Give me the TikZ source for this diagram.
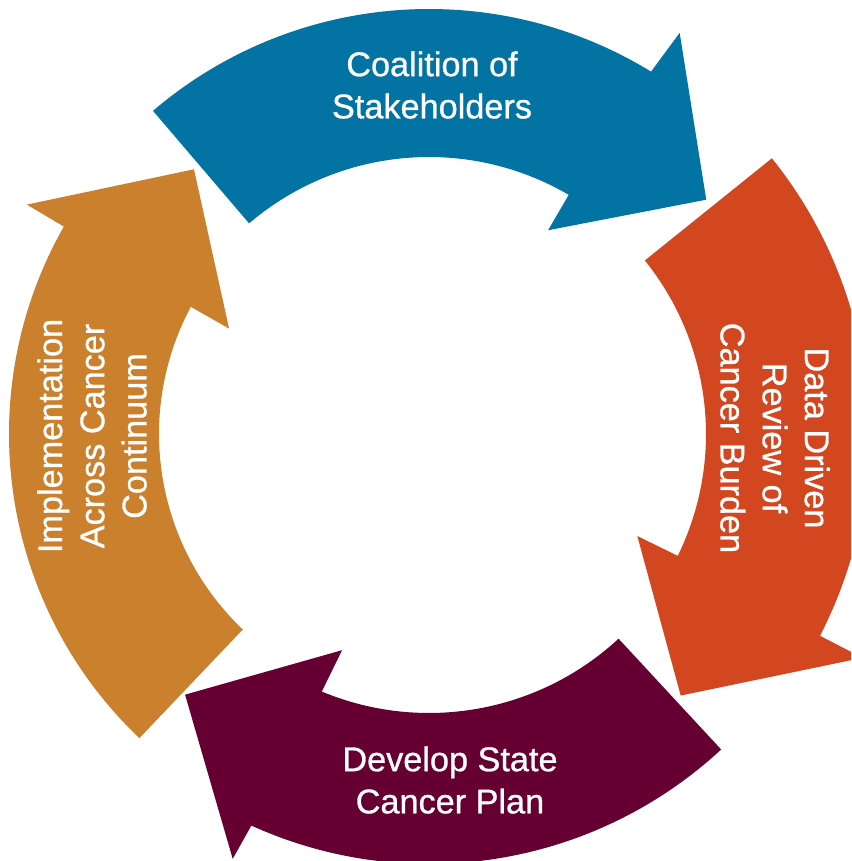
\documentclass[tikz,border=0pt]{standalone}
\usepackage{fontspec}
\newfontfamily\cyclefont{Liberation Sans}[BoldFont=Liberation Sans, BoldFeatures={FakeBold=0.8}]
\definecolor{coalblue}{RGB}{2,115,163}
\definecolor{datared}{RGB}{210,70,32}
\definecolor{planmaroon}{RGB}{102,0,51}
\definecolor{implorange}{RGB}{202,128,44}
\tikzset{steplabel/.style={text=white, align=center, inner sep=0pt, font=\cyclefont\bfseries\fontsize{19.5}{24}\selectfont}}

\begin{document}
\begin{tikzpicture}[x=0.02cm,y=0.02cm]
		\useasboundingbox (-429,-427) rectangle (422,434);
		\clip (-429,-427) rectangle (422,434);
		\coordinate (O) at (0,0);
		% coalition (top)
		\fill[coalblue] (130.5:277) arc[start angle=130.5, end angle=59.7, radius=277] -- (59.7:236) -- (40.2:363) -- (58.0:473) -- (58.5:425) arc[start angle=58.5, end angle=130.5, radius=425] -- cycle;
		% data review (right)
		\fill[datared] (38.8:277) arc[start angle=38.8, end angle=-26.1, radius=277] -- (-26.1:232) -- (-46.1:363) -- (-27.3:488) -- (-27.3:440) arc[start angle=-27.3, end angle=38.8, radius=440] -- cycle;
		% state plan (bottom)
		\fill[planmaroon] (-47.2:279) arc[start angle=-47.2, end angle=-112.6, radius=279] -- (-111.9:233) -- (-133.1:357) -- (-114.8:468) -- (-114.4:430) arc[start angle=-114.4, end angle=-47.2, radius=430] -- cycle;
		% implementation (left)
		\fill[implorange] (226.4:270) arc[start angle=226.4, end angle=151.9, radius=270] -- (152.2:226) -- (131.6:354) -- (150.3:463) -- (150.4:420) arc[start angle=150.4, end angle=226.4, radius=420] -- cycle;
		\node[steplabel] (coalition) at (3,349) {Coalition of\\Stakeholders};
		\node[steplabel, rotate=-90] (review) at (346,-4) {Data Driven\\Review of\\Cancer Burden};
		\node[steplabel] (plan) at (21,-346) {Develop State\\Cancer Plan};
		\node[steplabel, rotate=90] (implement) at (-337,-2) {Implementation\\Across Cancer\\Continuum};
\end{tikzpicture}
\end{document}
